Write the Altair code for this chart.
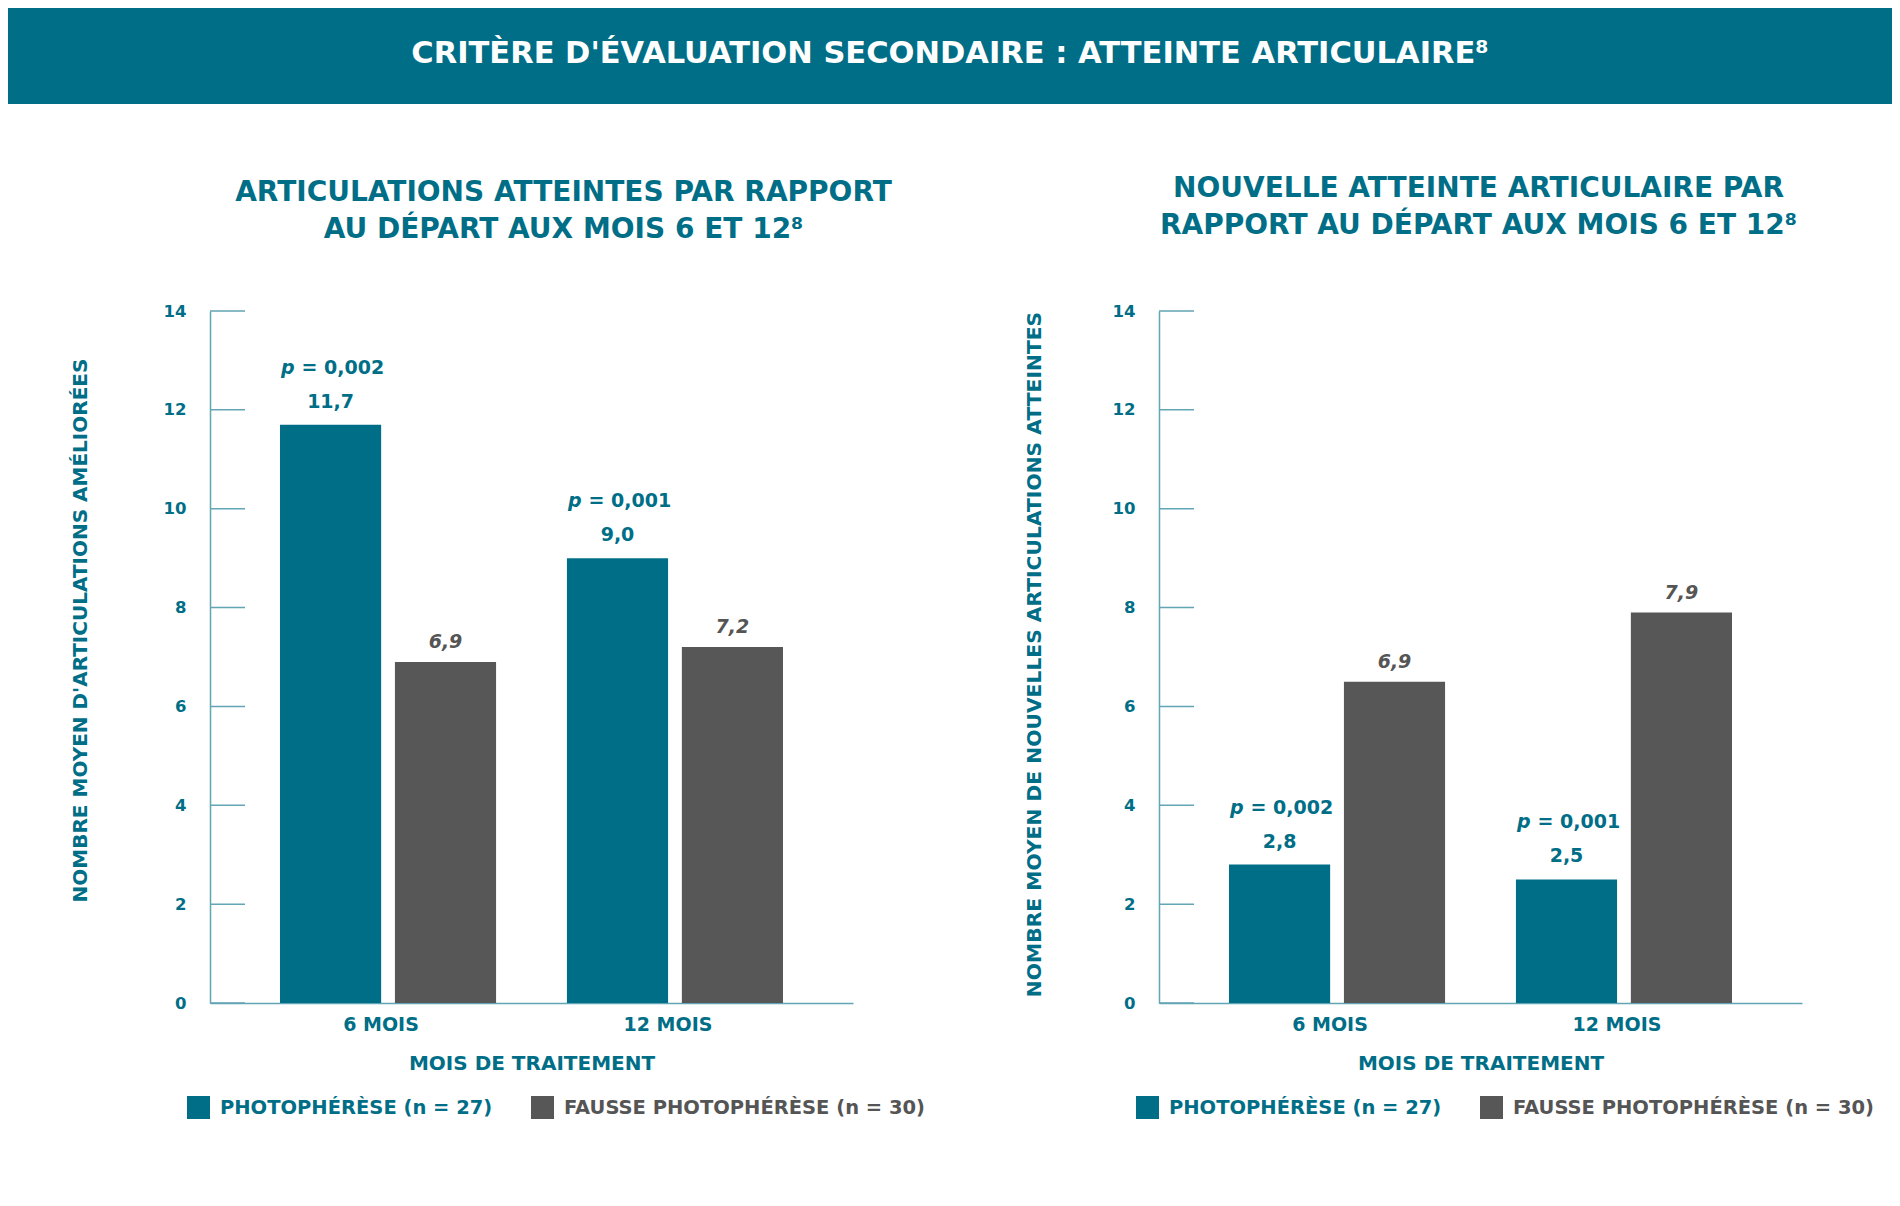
import altair as alt
import pandas as pd

# ---------------- data ----------------
months = ["6 MOIS", "12 MOIS"]
groups = ["PHOTOPHÉRÈSE (n = 27)", "FAUSSE PHOTOPHÉRÈSE (n = 30)"]

left_photo = [11.7, 9.0]
left_sham = [6.9, 7.2]
left_photo_lbl = ["11,7", "9,0"]
left_sham_lbl = ["6,9", "7,2"]
left_p = ["0,002", "0,001"]

right_photo = [2.8, 2.5]
right_sham = [6.5, 7.9]
right_photo_lbl = ["2,8", "2,5"]
right_sham_lbl = ["6,9", "7,9"]
right_p = ["0,002", "0,001"]

y_ticks = [0, 2, 4, 6, 8, 10, 12, 14]

header_title = "CRITÈRE D'ÉVALUATION SECONDAIRE : ATTEINTE ARTICULAIRE⁸"
left_title = ["ARTICULATIONS ATTEINTES PAR RAPPORT", "AU DÉPART AUX MOIS 6 ET 12⁸"]
right_title = ["NOUVELLE ATTEINTE ARTICULAIRE PAR", "RAPPORT AU DÉPART AUX MOIS 6 ET 12⁸"]
left_ytitle = "NOMBRE MOYEN D'ARTICULATIONS AMÉLIORÉES"
right_ytitle = "NOMBRE MOYEN DE NOUVELLES ARTICULATIONS ATTEINTES"
x_title = "MOIS DE TRAITEMENT"

# ---------------- style ----------------
FONT = "DejaVu Sans"
TEAL = "#006e87"
GREY = "#575757"
GREY_TXT = "#555555"
AXIS = "#62a5b5"
W, H = 643, 692


def panel(photo, sham, plbl, slbl, pvals, title_lines, ytitle, title_dx, title_offset,
          ytitle_x, ytitle_y, ytitle_size):
    rows = []
    for i, m in enumerate(months):
        rows.append(dict(month=m, group=groups[0], value=photo[i], label=plbl[i], p="= " + pvals[i]))
        rows.append(dict(month=m, group=groups[1], value=sham[i], label=slbl[i], p=""))
    df = pd.DataFrame(rows)
    base = alt.Chart(df)

    x = alt.X(
        "month:N", sort=months,
        scale=alt.Scale(paddingInner=0.247, paddingOuter=0.244),
        axis=alt.Axis(
            title=x_title, labelAngle=0, ticks=False, tickSize=0, labelPadding=12, labelOffset=-7,
            titlePadding=19, domainColor=AXIS, domainWidth=1.5, labelColor=TEAL, titleColor=TEAL,
            labelFontSize=19, titleFontSize=20, labelFont=FONT, titleFont=FONT,
            labelFontWeight="bold", titleFontWeight="bold",
        ),
    )
    xo = alt.XOffset("group:N", sort=groups, scale=alt.Scale(paddingInner=0.12))
    y = alt.Y(
        "value:Q", scale=alt.Scale(domain=[0, 14], nice=False),
        axis=alt.Axis(
            values=y_ticks, title=ytitle, grid=False, ticks=False, tickSize=0, labelPadding=24,
            domainColor=AXIS, domainWidth=1.5, labelColor=TEAL, titleColor=TEAL,
            labelFontSize=16.5, titleFontSize=ytitle_size, labelFont=FONT, titleFont=FONT,
            labelFontWeight="bold", titleFontWeight="bold", labelAlign="right",
            titleX=ytitle_x, titleY=ytitle_y, titleAngle=270, titleAlign="center",
            titleBaseline="middle",
        ),
    )
    color = alt.Color(
        "group:N", sort=groups,
        scale=alt.Scale(domain=groups, range=[TEAL, GREY]),
        legend=alt.Legend(
            title=None, orient="none", legendX=-23, legendY=785, direction="horizontal",
            symbolType="square", symbolSize=529, symbolStrokeWidth=0, symbolOpacity=1,
            labelFontSize=19.5, labelFont=FONT, labelFontWeight="bold", labelOffset=10,
            columnPadding=38, labelLimit=0, padding=0,
            labelColor=alt.ExprRef(expr="datum.index === 0 ? '%s' : '%s'" % (TEAL, GREY_TXT)),
        ),
    )

    bars = base.mark_bar().encode(x=x, xOffset=xo, y=y, color=color)

    photo_lbl = base.transform_filter(alt.datum.group == groups[0]).mark_text(
        dy=-23, color=TEAL, font=FONT, fontWeight="bold", fontSize=19, baseline="middle"
    ).encode(x=x, xOffset=xo, y=y, text="label:N")

    sham_lbl = base.transform_filter(alt.datum.group == groups[1]).mark_text(
        dy=-20, color=GREY_TXT, font=FONT, fontWeight="bold", fontStyle="italic", fontSize=19,
        baseline="middle"
    ).encode(x=x, xOffset=xo, y=y, text="label:N")

    p_letter = base.transform_filter(alt.datum.group == groups[0]).mark_text(
        text="p", dy=-57, dx=-36, align="right", color=TEAL, font=FONT, fontWeight="bold",
        fontStyle="italic", fontSize=19, baseline="middle"
    ).encode(x=x, xOffset=xo, y=y)

    p_val = base.transform_filter(alt.datum.group == groups[0]).mark_text(
        dy=-57, dx=-29, align="left", color=TEAL, font=FONT, fontWeight="bold", fontSize=19,
        baseline="middle"
    ).encode(x=x, xOffset=xo, y=y, text="p:N")

    ticks = alt.Chart(pd.DataFrame({"value": y_ticks})).mark_rule(
        color=AXIS, strokeWidth=1.5
    ).encode(y=alt.Y("value:Q"), x=alt.value(0), x2=alt.value(35))

    return alt.layer(bars, ticks, photo_lbl, sham_lbl, p_letter, p_val).properties(
        width=W, height=H,
        title=alt.TitleParams(
            text=title_lines, anchor="middle", frame="group", dx=title_dx, offset=title_offset,
            fontSize=28, color=TEAL, font=FONT, fontWeight="bold", lineHeight=37,
        ),
    )


left = panel(left_photo, left_sham, left_photo_lbl, left_sham_lbl, left_p, left_title,
             left_ytitle, 32, 59, -130, 319, 20)
right = panel(right_photo, right_sham, right_photo_lbl, right_sham_lbl, right_p, right_title,
              right_ytitle, -2, 63, -125, 343, 20.3)

header = alt.Chart(pd.DataFrame({"t": [header_title]})).properties(width=W, height=96)
band = header.mark_rect(color=TEAL).encode(
    x=alt.value(-202), x2=alt.value(1682), y=alt.value(0), y2=alt.value(96)
)
head_txt = header.mark_text(
    color="white", font=FONT, fontWeight="bold", fontSize=30.5, align="center",
    baseline="alphabetic"
).encode(x=alt.value(740), y=alt.value(55), text="t:N")
head = alt.layer(band, head_txt)

panels = alt.hconcat(left, right, spacing=306, bounds="flush").resolve_scale(
    color="independent", x="independent", y="independent"
).resolve_legend(color="independent")

chart = alt.vconcat(head, panels, spacing=207, bounds="flush").properties(
    padding=0
).configure(font=FONT).configure_view(stroke="transparent", strokeWidth=0)

chart.save("out.html", embed_options={"renderer": "svg", "actions": False})
